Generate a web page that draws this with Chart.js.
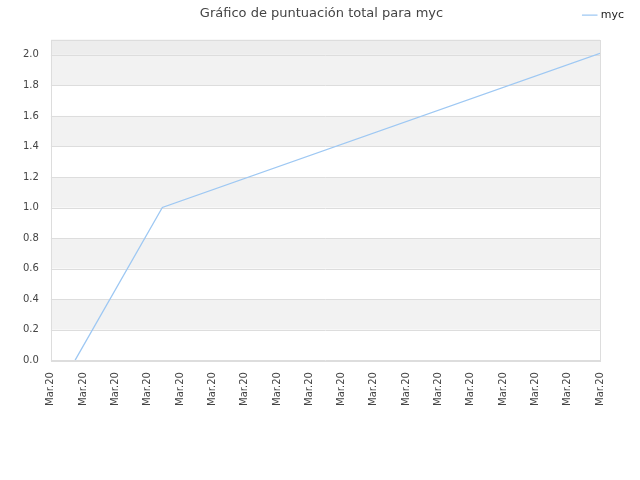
<!DOCTYPE html>
<html>
<head>
<meta charset="utf-8">
<script src="https://cdn.jsdelivr.net/npm/chart.js@4/dist/chart.umd.min.js"></script>
<style>
  html, body { margin: 0; padding: 0; background: #fff; overflow: hidden; }
  #wrap { width: 640px; height: 480px; }
</style>
</head>
<body>
<div id="wrap"><canvas id="grafico"></canvas></div>
<script>
// datos
var etiquetas = ['Mar.20','Mar.20','Mar.20','Mar.20','Mar.20','Mar.20','Mar.20','Mar.20','Mar.20',
                 'Mar.20','Mar.20','Mar.20','Mar.20','Mar.20','Mar.20','Mar.20','Mar.20','Mar.20'];
var posiciones = [0.75, 3.45, 17];
var puntuacion = [0, 1.0, 2.01];

// bandas alternas del fondo
var bandas = {
  id: 'bandas',
  beforeDatasetsDraw: function(chart) {
    var ctx = chart.ctx, a = chart.chartArea, y = chart.scales.y;
    ctx.save();
    ctx.fillStyle = '#ededed';
    ctx.fillRect(a.left, a.top, a.right - a.left, y.getPixelForValue(2.0) - a.top);
    ctx.fillStyle = '#f2f2f2';
    for (var v = 0.2; v < 2.0; v += 0.4) {
      var t = y.getPixelForValue(v + 0.2), b = y.getPixelForValue(v);
      ctx.fillRect(a.left, t, a.right - a.left, b - t);
    }
    ctx.strokeStyle = '#dddddd';
    ctx.lineWidth = 1;
    for (var i = 0; i <= 10; i++) {
      var py = Math.round(y.getPixelForValue(i * 0.2)) + 0.5;
      ctx.beginPath(); ctx.moveTo(a.left, py); ctx.lineTo(a.right, py); ctx.stroke();
    }
    ctx.strokeRect(Math.round(a.left) + 0.5, Math.round(a.top) + 0.5,
                   Math.round(a.right - a.left), Math.round(a.bottom - a.top));
    ctx.restore();
  }
};

var puntos = posiciones.map(function(p, i) { return { x: p, y: puntuacion[i] }; });

// ejes vacios solo para reservar margen
function hueco(pos, tam) {
  return {
    position: pos,
    display: true,
    grid: { display: false, drawTicks: false },
    border: { display: false },
    ticks: { display: false },
    afterFit: function(s) { if (pos === 'top') { s.height = tam; } else { s.width = tam; } }
  };
}

new Chart(document.getElementById('grafico'), {
  type: 'line',
  data: {
    datasets: [{
      label: 'myc',
      data: puntos,
      borderColor: '#9ec8f3',
      backgroundColor: '#9ec8f3',
      borderWidth: 1.3,
      pointRadius: 0,
      tension: 0,
      fill: false
    }]
  },
  options: {
    responsive: true,
    maintainAspectRatio: false,
    animation: false,
    layout: { padding: { left: 11, right: 8, top: 0, bottom: 62 } },
    plugins: {
      title: {
        display: true,
        text: 'Gráfico de puntuación total para myc',
        color: '#444',
        font: { family: 'DejaVu Sans', size: 13, weight: 'normal' },
        padding: { top: 6, bottom: -20 }
      },
      legend: {
        position: 'top',
        align: 'end',
        labels: {
          color: '#222',
          font: { family: 'DejaVu Sans', size: 11 },
          usePointStyle: true,
          pointStyle: 'line',
          boxWidth: 12,
          padding: 8
        }
      },
      tooltip: { enabled: false }
    },
    scales: {
      x: {
        type: 'linear',
        min: 0,
        max: etiquetas.length - 1,
        grid: { display: false, drawTicks: false },
        border: { display: false },
        ticks: {
          stepSize: 1,
          autoSkip: false,
          maxRotation: 90,
          minRotation: 90,
          padding: 12,
          color: '#444',
          font: { family: 'DejaVu Sans', size: 10 },
          callback: function(v) { return etiquetas[v]; }
        }
      },
      y: {
        min: 0,
        max: 2.1,
        grid: { display: false, drawTicks: false },
        border: { display: false },
        ticks: {
          stepSize: 0.2,
          includeBounds: false,
          padding: 12,
          color: '#444',
          font: { family: 'DejaVu Sans', size: 10 },
          callback: function(v) { return Number(v).toFixed(1); }
        }
      },
      arriba: hueco('top', 9),
      derecha: hueco('right', 32)
    }
  },
  plugins: [bandas]
});
</script>
</body>
</html>
